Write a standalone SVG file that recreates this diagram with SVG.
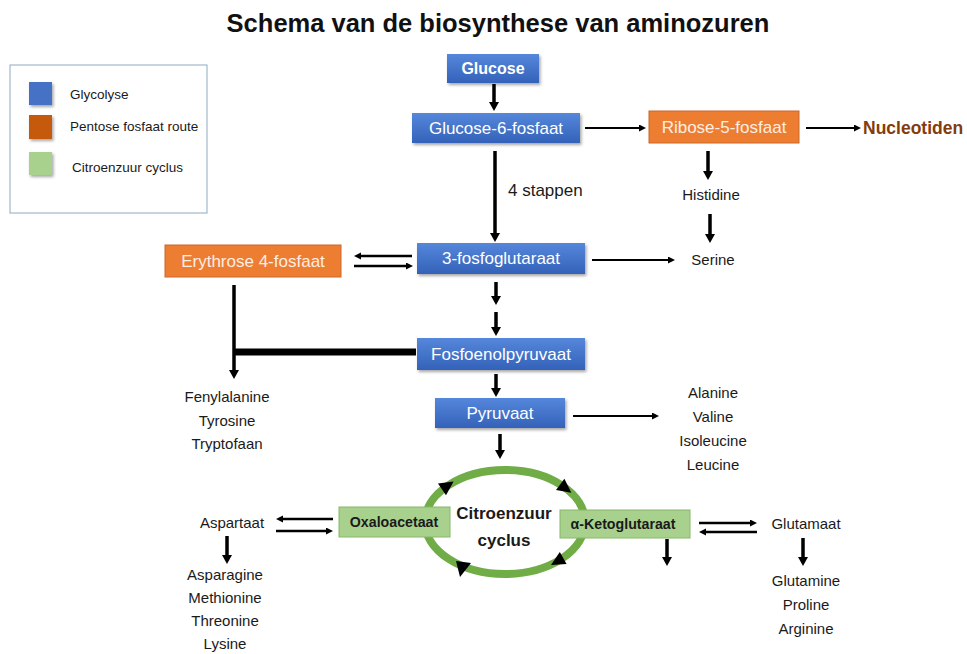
<svg xmlns="http://www.w3.org/2000/svg" width="967" height="654" viewBox="0 0 967 654">
<style>
text{font-family:"Liberation Sans",Arial,sans-serif;fill:#1a1a1a}
.title{font-size:25.5px;font-weight:bold;fill:#111}
.lg{font-size:13.5px}
.bx{font-size:17px;fill:#fff;text-anchor:middle}
.bxo{font-size:17px;fill:#fdeee4;text-anchor:middle}
.gb{font-size:14.2px;font-weight:bold;text-anchor:middle;fill:#1a1a1a}
.aa{font-size:15px;text-anchor:middle}
.blue{fill:url(#bg);filter:url(#sh)}
.orange{fill:#ed7d31;stroke:#c8682a;stroke-width:1}
.green{fill:#a9d18e;stroke:#86b866;stroke-width:1}
.thick{stroke:#000;stroke-width:3.5;fill:none;marker-end:url(#big)}
.thin{stroke:#000;stroke-width:2;fill:none;marker-end:url(#small)}
.dbl{stroke:#000;stroke-width:2.5;fill:none;marker-end:url(#small)}
</style>
<defs>
<linearGradient id="bg" x1="0" y1="0" x2="0" y2="1">
<stop offset="0" stop-color="#5587db"/>
<stop offset="1" stop-color="#3462b9"/>
</linearGradient>
<filter id="sh" x="-10%" y="-20%" width="125%" height="150%">
<feDropShadow dx="1.5" dy="2" stdDeviation="1.5" flood-opacity="0.35"/>
</filter>
<marker id="big" markerUnits="userSpaceOnUse" markerWidth="12" markerHeight="12" refX="4" refY="5" orient="auto">
<path d="M0,0 L9,5 L0,10 z" fill="#000"/>
</marker>
<marker id="small" markerUnits="userSpaceOnUse" markerWidth="10" markerHeight="10" refX="3" refY="3.5" orient="auto">
<path d="M0,0 L7,3.5 L0,7 z" fill="#000"/>
</marker>
</defs>
<rect width="967" height="654" fill="#fff"/>
<text class="title" x="498" y="32" text-anchor="middle">Schema van de biosynthese van aminozuren</text>

<g id="legend">
<rect x="10" y="65" width="197" height="148" fill="#fff" stroke="#8faabf" stroke-width="1"/>
<rect x="29" y="82" width="23" height="23" fill="#4472c4" filter="url(#sh)"/>
<rect x="29" y="115" width="23" height="24" fill="#c55a11" filter="url(#sh)"/>
<rect x="29" y="152" width="23" height="23" fill="#a9d18e" filter="url(#sh)"/>
<text class="lg" x="70" y="99">Glycolyse</text>
<text class="lg" x="70" y="131">Pentose fosfaat route</text>
<text class="lg" x="72" y="172">Citroenzuur cyclus</text>
</g>

<g id="connectors">
<line class="thick" x1="494" y1="84" x2="494" y2="106"/>
<line class="thick" x1="495" y1="151" x2="495" y2="237"/>
<line class="thick" x1="708" y1="151" x2="708" y2="175"/>
<line class="thick" x1="710" y1="214" x2="710" y2="238"/>
<line class="thick" x1="496" y1="282" x2="496" y2="300"/>
<line class="thick" x1="496" y1="312" x2="496" y2="331"/>
<line class="thick" x1="496" y1="374" x2="496" y2="392"/>
<line class="thick" x1="500" y1="434" x2="500" y2="454"/>
<line x1="234" y1="352" x2="416" y2="352" stroke="#000" stroke-width="7"/>
<line class="thick" x1="234" y1="285" x2="234" y2="374"/>
<line class="thick" x1="227" y1="536" x2="227" y2="559"/>
<line class="thick" x1="667" y1="539" x2="667" y2="561"/>
<line class="thick" x1="803" y1="538" x2="803" y2="561"/>
<line class="thin" x1="585" y1="128" x2="642" y2="128"/>
<line class="thin" x1="806" y1="128" x2="857" y2="128"/>
<line class="thin" x1="592" y1="260" x2="671" y2="260"/>
<line class="thin" x1="573" y1="416" x2="655" y2="416"/>
<line class="dbl" x1="412" y1="256" x2="358" y2="256"/>
<line class="dbl" x1="354" y1="266" x2="409" y2="266"/>
<line class="dbl" x1="333" y1="519" x2="280" y2="519"/>
<line class="dbl" x1="276" y1="531" x2="329" y2="531"/>
<line class="dbl" x1="699" y1="523" x2="753" y2="523"/>
<line class="dbl" x1="757" y1="532" x2="703" y2="532"/>
</g>

<g id="cycle">
<ellipse cx="505" cy="522" rx="80" ry="52" fill="none" stroke="#70ad47" stroke-width="8"/>
<polygon points="453.6,481.5 446,495.2 438,483.6" fill="#000"/>
<polygon points="571.4,492.7 556,490 564.4,478.8" fill="#000"/>
<polygon points="551,565 559.8,551.9 566.6,564.1" fill="#000"/>
<polygon points="456,561 471,563 460,577" fill="#000"/>
<text x="504" y="519" text-anchor="middle" style="font-size:17px;font-weight:bold">Citroenzuur</text>
<text x="504" y="546" text-anchor="middle" style="font-size:17px;font-weight:bold">cyclus</text>
</g>

<g id="glucose">
<rect class="blue" x="447" y="54" width="92" height="29"/>
<text class="bx" x="493" y="74" style="font-weight:bold;font-size:16px">Glucose</text>
</g>
<g id="g6p">
<rect class="blue" x="412" y="113" width="168" height="30"/>
<text class="bx" x="496" y="134">Glucose-6-fosfaat</text>
</g>
<g id="r5p">
<rect class="orange" x="649" y="111" width="150" height="32"/>
<text class="bxo" x="724" y="133">Ribose-5-fosfaat</text>
</g>
<g id="nucleotiden">
<text x="863" y="134" style="font-size:17.5px;font-weight:bold;fill:#843c0c">Nucleotiden</text>
</g>
<g id="stappen">
<text x="508" y="196" style="font-size:17px">4 stappen</text>
</g>
<g id="histidine">
<text class="aa" x="711" y="200">Histidine</text>
</g>
<g id="serine">
<text class="aa" x="713" y="265">Serine</text>
</g>
<g id="pg3">
<rect class="blue" x="417" y="243" width="168" height="31"/>
<text class="bx" x="501" y="264">3-fosfoglutaraat</text>
</g>
<g id="erythrose">
<rect class="orange" x="165" y="245" width="176" height="32"/>
<text class="bxo" x="253" y="267">Erythrose 4-fosfaat</text>
</g>
<g id="pep">
<rect class="blue" x="417" y="338" width="168" height="32"/>
<text class="bx" x="501" y="360">Fosfoenolpyruvaat</text>
</g>
<g id="aromatic">
<text class="aa" x="227" y="402">Fenylalanine</text>
<text class="aa" x="227" y="426">Tyrosine</text>
<text class="aa" x="227" y="449">Tryptofaan</text>
</g>
<g id="pyruvaat">
<rect class="blue" x="435" y="398" width="130" height="30"/>
<text class="bx" x="500" y="419">Pyruvaat</text>
</g>
<g id="alanine">
<text class="aa" x="713" y="398">Alanine</text>
<text class="aa" x="713" y="422">Valine</text>
<text class="aa" x="713" y="446">Isoleucine</text>
<text class="aa" x="713" y="470">Leucine</text>
</g>
<g id="oxaloacetaat">
<rect class="green" x="339" y="507" width="111" height="30"/>
<text class="gb" x="394" y="527">Oxaloacetaat</text>
</g>
<g id="ketoglutaraat">
<rect class="green" x="560" y="510" width="130" height="28"/>
<text class="gb" x="623" y="529">α-Ketoglutaraat</text>
</g>
<g id="aspartaat">
<text class="aa" x="232" y="528">Aspartaat</text>
</g>
<g id="aspartaat-family">
<text class="aa" x="225" y="580">Asparagine</text>
<text class="aa" x="225" y="603">Methionine</text>
<text class="aa" x="225" y="626">Threonine</text>
<text class="aa" x="225" y="649">Lysine</text>
</g>
<g id="glutamaat">
<text class="aa" x="806" y="529">Glutamaat</text>
</g>
<g id="glutamaat-family">
<text class="aa" x="806" y="586">Glutamine</text>
<text class="aa" x="806" y="610">Proline</text>
<text class="aa" x="806" y="634">Arginine</text>
</g>
</svg>
